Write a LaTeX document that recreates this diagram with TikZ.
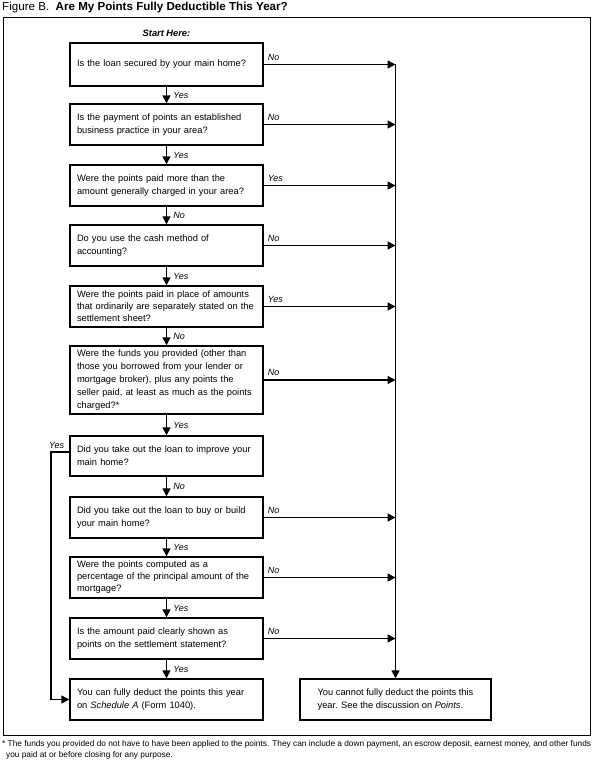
\documentclass[tikz,border=0pt]{standalone}
\usepackage{fontspec}
\setmainfont{Liberation Sans}
\usetikzlibrary{arrows.meta}

\begin{document}
\begin{tikzpicture}[x=1pt,y=-1pt,>={Triangle[length=8pt,width=8pt]},
    qbox/.style={draw,line width=1.4pt,text width=179pt,inner xsep=7pt,
      inner ysep=0pt,align=left,font=\fontsize{9.3}{13}\selectfont},
    tight/.style={font=\fontsize{9.3}{12}\selectfont},
    ans/.style={font=\fontsize{9}{11}\selectfont\itshape,inner sep=1pt},
    flow/.style={line width=1.5pt,->}]
  \useasboundingbox (0,0) rectangle (595,762);
  % Title and frame
  \node[anchor=west,inner sep=0pt,font=\fontsize{11.6}{13}\selectfont] (title) at (2,8)
    {Figure B.\ \ \textbf{Are My Points Fully Deductible This Year?}};
  \draw[line width=0.9pt] (3,17) rectangle (590,735);
  \node[font=\fontsize{9.3}{11}\selectfont\bfseries\itshape] (start) at (166.5,33) {Start Here:};
  % Questions
  \node[qbox,minimum height=43pt] (q1) at (166.5,64.5)
    {Is the loan secured by your main home?};
  \node[qbox,minimum height=41pt] (q2) at (166.5,124.5)
    {Is the payment of points an established\\business practice in your area?};
  \node[qbox,minimum height=41pt] (q3) at (166.5,185.5)
    {Were the points paid more than the\\amount generally charged in your area?};
  \node[qbox,minimum height=41pt] (q4) at (166.5,245.5)
    {Do you use the cash method of\\accounting?};
  \node[qbox,tight,minimum height=41pt] (q5) at (166.5,306.5)
    {Were the points paid in place of amounts\\that ordinarily are separately stated on the\\settlement sheet?};
  \node[qbox,minimum height=68pt] (q6) at (166.5,380)
    {Were the funds you provided (other than\\those you borrowed from your lender or\\mortgage broker), plus any points the\\seller paid, at least as much as the points\\charged?*};
  \node[qbox,minimum height=40pt] (q7) at (166.5,456)
    {Did you take out the loan to improve your\\main home?};
  \node[qbox,minimum height=41pt] (q8) at (166.5,517.5)
    {Did you take out the loan to buy or build\\your main home?};
  \node[qbox,tight,minimum height=41pt] (q9) at (166.5,577.5)
    {Were the points computed as a\\percentage of the principal amount of the\\mortgage?};
  \node[qbox,minimum height=41pt] (q10) at (166.5,638.5)
    {Is the amount paid clearly shown as\\points on the settlement statement?};
  % Outcomes
  \node[qbox,minimum height=41pt] (can) at (166.5,699.5)
    {You can fully deduct the points this year\\on \textit{Schedule A} (Form 1040).};
  \node[draw,line width=1.4pt,minimum width=191pt,minimum height=41pt,align=left,
    font=\fontsize{9.3}{13}\selectfont] (cant) at (395.5,699.5)
    {You cannot fully deduct the points this\\year. See the discussion on \textit{Points}.};
  % Down the left column
  \foreach \a/\b/\l in {q1/q2/Yes,q2/q3/Yes,q3/q4/No,q4/q5/Yes,q5/q6/No,
      q6/q7/Yes,q7/q8/No,q8/q9/Yes,q9/q10/Yes,q10/can/Yes}
    \draw[flow] (\a) -- node[ans,anchor=west,xshift=5pt] (d\a) {\l} (\b);
  % Across to the right column
  \coordinate (trunk) at (395.5,64.5);
  \draw[flow] (trunk) -- (cant);
  \foreach \q/\l in {q1/No,q2/No,q3/Yes,q4/No,q5/Yes,q6/No,q8/No,q9/No,q10/No}{
    \draw[flow] (\q.east) -- (\q.east -| trunk);
    \node[ans,anchor=south west] (r\q) at ([xshift=3pt,yshift=3pt]\q.east) {\l};
  }
  % Improvement loan goes straight to the end
  \coordinate (loop) at (51,452);
  \draw[flow] (loop -| q7.west) -- (loop) |- (can.west);
  \node[ans,anchor=south west] (rq7) at ([xshift=-3pt,yshift=2pt]loop) {Yes};
  % Footnote
  \node[anchor=north west,align=left,inner sep=0pt,font=\fontsize{8.3}{11}\selectfont] (note) at (2,740)
    {* The funds you provided do not have to have been applied to the points. They can include a down payment, an escrow deposit, earnest money, and other funds\\
     \hspace*{4pt}you paid at or before closing for any purpose.};
\end{tikzpicture}
\end{document}
